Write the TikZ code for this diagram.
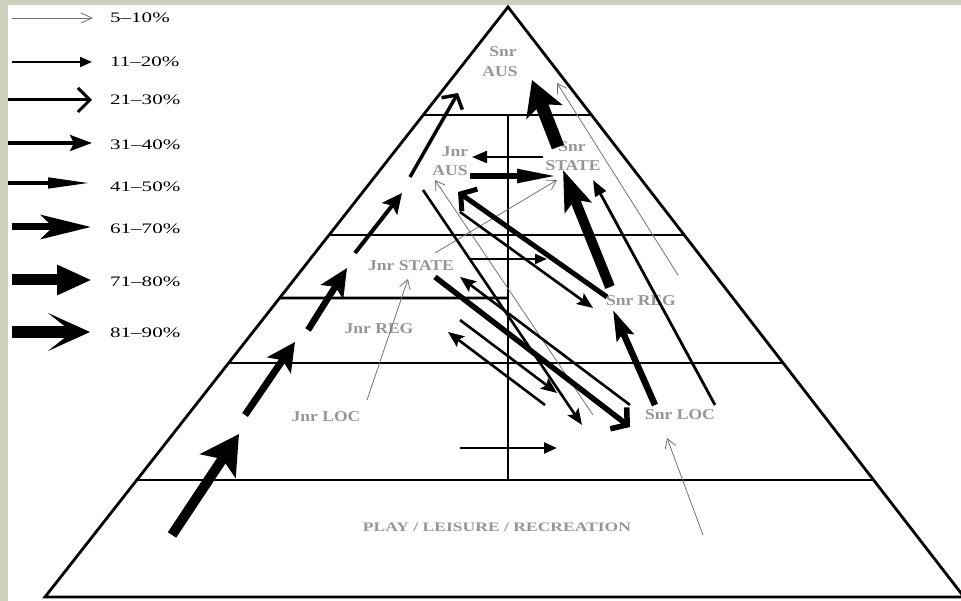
\documentclass[tikz,border=0pt]{standalone}
\usepackage{fontspec}
\usepackage{graphicx}
\setmainfont{Liberation Serif}
\usetikzlibrary{arrows.meta,calc}
\definecolor{bgc}{RGB}{203,209,189}
\definecolor{lgray}{RGB}{150,150,150}
\definecolor{agray}{RGB}{115,115,115}
\newcommand{\lbl}[1]{\scalebox{1.17}[1]{\fontsize{15}{15}\selectfont\bfseries #1}}
\newcommand{\legtxt}[1]{\scalebox{1.45}[1]{\fontsize{14.5}{14.5}\selectfont #1}}
\begin{document}
\begin{tikzpicture}[x=1pt,y=-1pt,
  lab/.style={text=lgray, inner sep=0pt},
  leg/.style={anchor=west, inner sep=0pt, text=black},
  pyr/.style={line width=2.8pt},
  ag/.style={draw=agray, line width=0.8pt, -{Straight Barb[length=9pt,width=11pt]}},
  la/.style={draw=agray, line width=0.8pt, -{Straight Barb[length=11pt,width=10pt]}},
  lb/.style={line width=2pt, -{Triangle[length=12pt,width=10pt]}},
  lc/.style={line width=3pt, -{Straight Barb[length=12pt,width=24pt]}},
  ld/.style={line width=3.2pt, -{Stealth[length=22pt,width=16pt,inset=4pt]}},
  le/.style={line width=4.5pt, -{Triangle[length=44pt,width=10pt]}},
  lf/.style={line width=7pt, -{Stealth[length=50pt,width=24pt,inset=12pt]}},
  lg/.style={line width=11pt, -{Triangle[length=35pt,width=28pt]}},
  lh/.style={line width=12pt, -{Stealth[length=42pt,width=38pt,inset=24pt]}},
  thin/.style={line width=2.6pt, -{Stealth[length=16pt,width=13pt,inset=3pt]}},
  openv/.style={line width=5pt, -{Straight Barb[length=11pt,width=27pt]}}
]
\fill[bgc] (0,0) rectangle (961,601);
\fill[white] (8,5) rectangle (961,601);
\useasboundingbox (0,0) rectangle (961,601);

% ---------- legend ----------
\coordinate (g1a) at (12,18);  \coordinate (g1b) at (93,18);
\coordinate (g2a) at (12,62);  \coordinate (g2b) at (92,62);
\coordinate (g3a) at (8,100);  \coordinate (g3b) at (92,100);
\coordinate (g4a) at (8,143);  \coordinate (g4b) at (92,143);
\coordinate (g5a) at (8,183);  \coordinate (g5b) at (92,183);
\coordinate (g6a) at (12,227); \coordinate (g6b) at (91,227);
\coordinate (g7a) at (12,280); \coordinate (g7b) at (92,280);
\coordinate (g8a) at (12,332); \coordinate (g8b) at (90,332);
\draw[la] (g1a) -- (g1b);
\draw[lb] (g2a) -- (g2b);
\draw[lc] (g3a) -- (g3b);
\draw[ld] (g4a) -- (g4b);
\draw[le] (g5a) -- (g5b);
\draw[lf] (g6a) -- (g6b);
\draw[lg] (g7a) -- (g7b);
\draw[lh] (g8a) -- (g8b);
\node[leg] (t1) at (110,18)  {\legtxt{5–10\%}};
\node[leg] (t2) at (110,62)  {\legtxt{11–20\%}};
\node[leg] (t3) at (110,100) {\legtxt{21–30\%}};
\node[leg] (t4) at (110,145) {\legtxt{31–40\%}};
\node[leg] (t5) at (110,187) {\legtxt{41–50\%}};
\node[leg] (t6) at (110,229) {\legtxt{61–70\%}};
\node[leg] (t7) at (110,282) {\legtxt{71–80\%}};
\node[leg] (t8) at (110,333) {\legtxt{81–90\%}};

% ---------- pyramid ----------
\coordinate (apex) at (508,7);
\coordinate (bl) at (45,597);
\coordinate (br) at (964,597);
\draw[pyr, line join=miter] (bl) -- (apex) -- (br) -- cycle;
\foreach \f in {0.18305,0.38644,0.60339,0.80169}
  {\draw[pyr] ($(apex)!\f!(bl)$) -- ($(apex)!\f!(br)$);}
\draw[pyr] ($(apex)!0.49322!(bl)$) -- (508,298);
\draw[pyr] (508,115) -- (508,480);

% ---------- labels ----------
\node[lab] (sa1) at (503,52) {\lbl{Snr}};
\node[lab] (sa2) at (500,72) {\lbl{AUS}};
\node[lab] (ja1) at (455,152) {\lbl{Jnr}};
\node[lab] (ja2) at (450,171) {\lbl{AUS}};
\node[lab] (ss1) at (572,147) {\lbl{Snr}};
\node[lab] (ss2) at (573,166) {\lbl{STATE}};
\node[lab] (js) at (411,266) {\lbl{Jnr STATE}};
\node[lab] (jr) at (379,329) {\lbl{Jnr REG}};
\node[lab] (sr) at (641,301) {\lbl{Snr REG}};
\node[lab] (sl) at (680,415) {\lbl{Snr LOC}};
\node[lab] (jl) at (326,417) {\lbl{Jnr LOC}};
\node[lab] (play) at (497,527) {\scalebox{1.35}[1]{\fontsize{13}{13}\selectfont\bfseries PLAY / LEISURE / RECREATION}};

% ---------- left junior pathway ----------
\coordinate (a1s) at (172,535); \coordinate (a1e) at (239,434);
\coordinate (a2s) at (245,415); \coordinate (a2e) at (295,342);
\coordinate (a3s) at (308,330); \coordinate (a3e) at (347,268);
\coordinate (a4s) at (355,253); \coordinate (a4e) at (402,193);
\coordinate (a5s) at (410,177); \coordinate (a5e) at (458,93);
\draw[line width=10pt, -{Stealth[length=38pt,width=42pt,inset=8pt]}] (a1s) -- (a1e);
\draw[line width=7pt, -{Stealth[length=28pt,width=28pt,inset=6pt]}] (a2s) -- (a2e);
\draw[line width=6.5pt, -{Stealth[length=28pt,width=26pt,inset=6pt]}] (a3s) -- (a3e);
\draw[line width=4pt, -{Stealth[length=20pt,width=19pt,inset=4pt]}] (a4s) -- (a4e);
\draw[line width=3.5pt, -{Straight Barb[length=10pt,width=24pt]}] (a5s) -- (a5e);

% ---------- right senior pathway ----------
\coordinate (b1s) at (558,147); \coordinate (b1e) at (532,80);
\coordinate (b2s) at (610,287); \coordinate (b2e) at (563,170);
\coordinate (b3s) at (655,405); \coordinate (b3e) at (613,310);
\coordinate (b4s) at (715,405); \coordinate (b4e) at (593,180);
\draw[line width=13pt, -{Stealth[length=34pt,width=38pt,inset=8pt]}] (b1s) -- (b1e);
\draw[line width=10pt, -{Stealth[length=40pt,width=28pt,inset=8pt]}] (b2s) -- (b2e);
\draw[line width=6.5pt, -{Stealth[length=30pt,width=18pt,inset=5pt]}] (b3s) -- (b3e);
\draw[line width=2.8pt, -{Triangle[length=16pt,width=12pt]}] (b4s) -- (b4e);

% ---------- grey arrows (5-10%) ----------
\coordinate (g5s) at (678,275); \coordinate (g5e) at (557,83);
\coordinate (gps) at (703,535); \coordinate (gpe) at (667,438);
\coordinate (gls) at (367,400); \coordinate (gle) at (408,279);
\coordinate (gjs) at (435,253); \coordinate (gje) at (557,180);
\coordinate (gas) at (593,415); \coordinate (gae) at (435,180);
\draw[ag] (g5s) -- (g5e);
\draw[ag] (gps) -- (gpe);
\draw[ag] (gls) -- (gle);
\draw[ag] (gjs) -- (gje);
\draw[ag] (gas) -- (gae);

% ---------- horizontal arrows ----------
\coordinate (h1s) at (470,176); \coordinate (h1e) at (557,176);
\coordinate (h2s) at (543,157); \coordinate (h2e) at (472,157);
\coordinate (h3s) at (470,259); \coordinate (h3e) at (547,259);
\coordinate (h4s) at (460,448); \coordinate (h4e) at (557,448);
\draw[line width=5.5pt, -{Triangle[length=40pt,width=13pt]}] (h1s) -- (h1e);
\draw[line width=2.2pt, -{Triangle[length=15pt,width=12pt]}] (h2s) -- (h2e);
\draw[line width=2pt, -{Triangle[length=12pt,width=10pt]}] (h3s) -- (h3e);
\draw[line width=2.5pt, -{Triangle[length=13pt,width=11pt]}] (h4s) -- (h4e);

% ---------- crossing diagonal arrows ----------
\coordinate (c1s) at (607,297); \coordinate (c1e) at (458,192);
\coordinate (c2s) at (460,212); \coordinate (c2e) at (593,308);
\coordinate (c3s) at (423,190); \coordinate (c3e) at (582,425);
\coordinate (c4s) at (435,277); \coordinate (c4e) at (630,427);
\coordinate (c5s) at (630,405); \coordinate (c5e) at (460,277);
\coordinate (c6s) at (460,320); \coordinate (c6e) at (557,393);
\coordinate (c7s) at (545,405); \coordinate (c7e) at (448,332);
\draw[openv] (c1s) -- (c1e);
\draw[thin] (c2s) -- (c2e);
\draw[thin] (c3s) -- (c3e);
\draw[openv, line width=5.5pt] (c4s) -- (c4e);
\draw[thin] (c5s) -- (c5e);
\draw[thin] (c6s) -- (c6e);
\draw[thin] (c7s) -- (c7e);
\end{tikzpicture}
\end{document}
